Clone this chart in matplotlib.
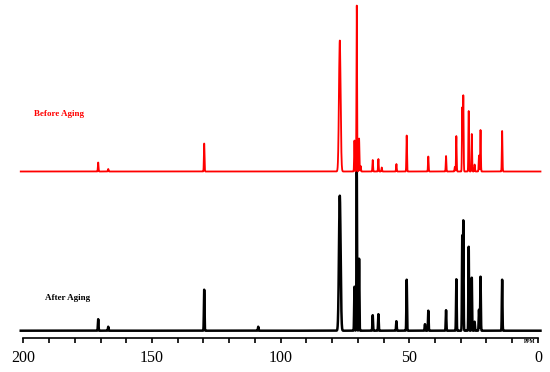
import numpy as np
import matplotlib
matplotlib.use('Agg')
import matplotlib.pyplot as plt

# peak positions (ppm) and heights (px above baseline)
before_ppm = [170.9, 167.0, 129.7, 77.0, 71.3, 70.4, 69.5, 68.9, 64.2, 62.0, 60.7,
              55.0, 51.0, 42.6, 35.7, 32.3, 31.7, 29.4, 29.0, 26.9, 25.7, 24.6, 22.9,
              22.3, 13.9]
before_h = [9, 2.5, 28, 131, 31, 166, 33, 5.5, 11.5, 12.5, 4, 7.5, 36, 15, 15.5,
            4.5, 35.5, 64, 76, 60.5, 37.5, 7, 16, 41.5, 40.5]

after_ppm = [170.9, 167.0, 129.7, 108.7, 77.0, 71.3, 70.4, 69.5, 64.2, 62.0, 55.0,
             51.0, 43.9, 42.6, 35.7, 31.7, 29.4, 29.0, 26.9, 25.7, 24.6, 22.9, 22.3, 13.9]
after_h = [11.5, 4, 41, 4, 135, 44, 160, 72, 15.5, 16.5, 9.5, 51, 6.5, 20, 20.5,
           51.5, 95, 110, 84, 53, 9, 21, 54, 51]

xticks_major = [200, 150, 100, 50, 0]


def spectrum(x, ppm, h):
    y = np.zeros_like(x)
    for p, a in zip(ppm, h):
        s = 0.32 if p == 77.0 else 0.12
        y += a * np.exp(-0.5 * ((x - p) / s)**2)
    return y


x = np.linspace(201, -1, 12000)
red_base = 166.8
black_base = 7.6

fig = plt.figure(figsize=(5.5, 3.72), dpi=100)
ax = fig.add_axes([0.0424, 0.0906, 0.9356, 0.9094])
ax.plot(x, black_base + spectrum(x, after_ppm, after_h), color='black', lw=1.8, clip_on=False)
ax.plot(x, red_base + spectrum(x, before_ppm, before_h), color='red', lw=1.3, clip_on=False)

ax.set_xlim(200, 0)
ax.set_ylim(0, 338.3)
for s in ['top', 'left', 'right']:
    ax.spines[s].set_visible(False)
ax.spines['bottom'].set_linewidth(1.2)
ax.set_yticks([])
ax.set_xticks(xticks_major)
ax.set_xticks(np.arange(0, 201, 10), minor=True)
ax.tick_params(axis='x', which='both', direction='out', length=3.5, width=1.2, pad=5)
ax.set_xticklabels([str(t) for t in xticks_major], fontsize=11.5, family='Liberation Serif')

ax.text(34 / 550, 1 - 113.5 / 372, 'Before Aging', transform=fig.transFigure, color='red',
        fontsize=6.5, fontweight='bold', family='Liberation Serif', va='center', ha='left')
ax.text(45 / 550, 1 - 298 / 372, 'After Aging', transform=fig.transFigure, color='black',
        fontsize=6.5, fontweight='bold', family='Liberation Serif', va='center', ha='left')
ax.text(530 / 550, 1 - 341.5 / 372, 'PPM', transform=fig.transFigure, color='black',
        fontsize=4, fontweight='bold', family='Liberation Serif', va='center', ha='center')

fig.savefig('out.png', dpi=100)
